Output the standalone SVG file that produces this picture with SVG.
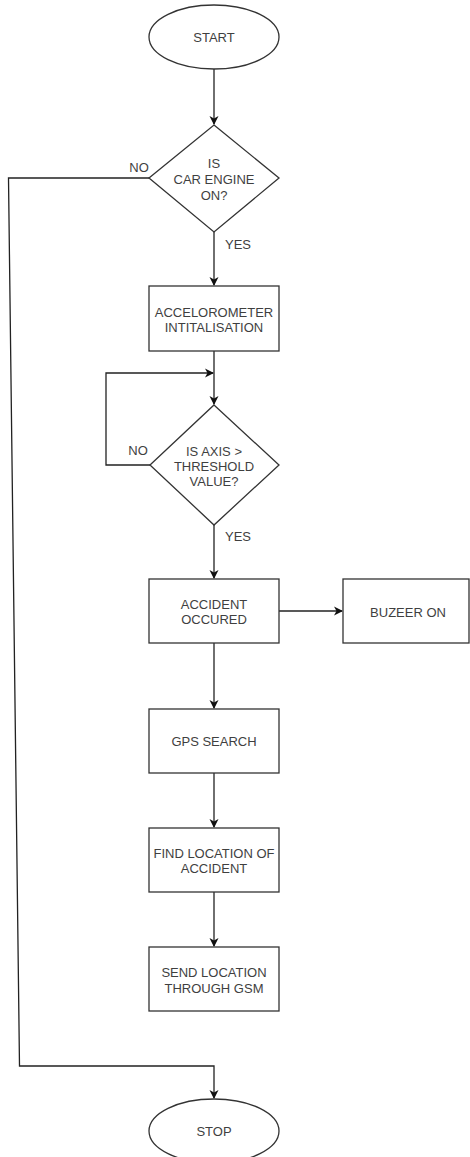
<svg xmlns="http://www.w3.org/2000/svg" width="470" height="1157" viewBox="0 0 470 1157">
<defs>
<style>
.s{fill:#fff;stroke:#333;stroke-width:1.3}
.t{font-family:"Liberation Sans",Arial,sans-serif;font-size:13px;fill:#3f3f3f;text-anchor:middle}
.c{fill:none;stroke:#222;stroke-width:1.3}
</style>
<marker id="a" markerWidth="10" markerHeight="10" refX="8" refY="5" orient="auto" markerUnits="userSpaceOnUse">
<path d="M0,0.5 L9,5 L0,9.5 L2.5,5 Z" fill="#111"/>
</marker>
</defs>
<rect width="470" height="1157" fill="#fff"/>
<g id="connectors">
<line class="c" x1="214" y1="69" x2="214" y2="124" marker-end="url(#a)"/>
<line class="c" x1="214" y1="232" x2="214" y2="285" marker-end="url(#a)"/>
<line class="c" x1="214" y1="351" x2="214" y2="404" marker-end="url(#a)"/>
<polyline class="c" points="150,465 106,465 106,373 213,373" marker-end="url(#a)"/>
<line class="c" x1="214" y1="525" x2="214" y2="578" marker-end="url(#a)"/>
<line class="c" x1="279" y1="611" x2="342" y2="611" marker-end="url(#a)"/>
<line class="c" x1="214" y1="643" x2="214" y2="708" marker-end="url(#a)"/>
<line class="c" x1="214" y1="773" x2="214" y2="827" marker-end="url(#a)"/>
<line class="c" x1="214" y1="892" x2="214" y2="946" marker-end="url(#a)"/>
<polyline class="c" points="149,178 8.5,178 19.5,1066 214,1066 214,1098" marker-end="url(#a)"/>
<text class="t" x="139" y="172">NO</text>
<text class="t" x="238" y="249">YES</text>
<text class="t" x="138" y="455">NO</text>
<text class="t" x="238" y="541">YES</text>
</g>
<g id="start">
<ellipse class="s" cx="214" cy="37" rx="65" ry="32"/>
<text class="t" x="214" y="42">START</text>
</g>
<g id="engine">
<polygon class="s" points="214,125 279,178 214,232 149,178"/>
<text class="t" x="214" y="168">IS</text>
<text class="t" x="214" y="184">CAR ENGINE</text>
<text class="t" x="214" y="200">ON?</text>
</g>
<g id="accel">
<rect class="s" x="149" y="286" width="130" height="65"/>
<text class="t" x="214" y="317">ACCELOROMETER</text>
<text class="t" x="214" y="332">INTITALISATION</text>
</g>
<g id="axis">
<polygon class="s" points="214,405 279,465 214,525 150,465"/>
<text class="t" x="214" y="456">IS AXIS &gt;</text>
<text class="t" x="214" y="471">THRESHOLD</text>
<text class="t" x="214" y="486">VALUE?</text>
</g>
<g id="accident">
<rect class="s" x="149" y="579" width="130" height="64"/>
<text class="t" x="214" y="609">ACCIDENT</text>
<text class="t" x="214" y="624">OCCURED</text>
</g>
<g id="buzzer">
<rect class="s" x="343" y="579" width="126" height="64"/>
<text class="t" x="408" y="617">BUZEER ON</text>
</g>
<g id="gps">
<rect class="s" x="149" y="709" width="130" height="64"/>
<text class="t" x="214" y="746">GPS SEARCH</text>
</g>
<g id="find">
<rect class="s" x="149" y="828" width="130" height="64"/>
<text class="t" x="214" y="858">FIND LOCATION OF</text>
<text class="t" x="214" y="873">ACCIDENT</text>
</g>
<g id="send">
<rect class="s" x="149" y="947" width="130" height="64"/>
<text class="t" x="214" y="977">SEND LOCATION</text>
<text class="t" x="214" y="993">THROUGH GSM</text>
</g>
<g id="stop">
<ellipse class="s" cx="214" cy="1131" rx="65" ry="32"/>
<text class="t" x="214" y="1136">STOP</text>
</g>
</svg>
